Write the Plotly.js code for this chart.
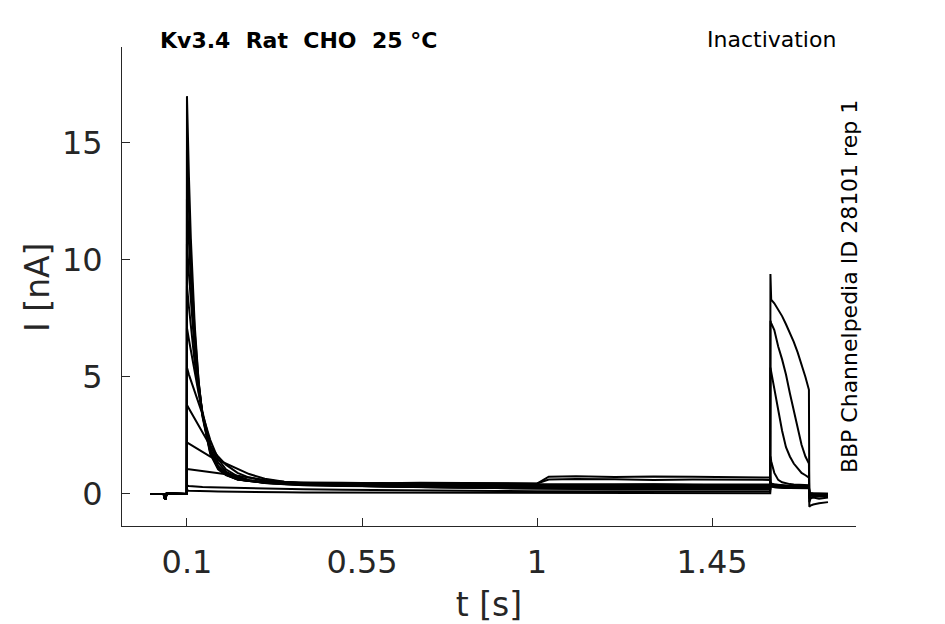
<!DOCTYPE html>
<html>
<head>
<meta charset="utf-8">
<script src="https://cdn.plot.ly/plotly-3.0.1.min.js"></script>
<style>
  body { margin: 0; background: #fff; }
  #chart { width: 945px; height: 624px; }
</style>
</head>
<body>
<div id="chart"></div>
<script>
// holding period before the prepulse (same for every sweep)
var tHold = [0.005, 0.04, 0.044, 0.048, 0.0995];
var iHold = [0, 0, -0.25, 0.02, 0];

// prepulse, 0.1 s .. 1.6 s
var tPre = [0.1, 0.105, 0.11, 0.12, 0.13, 0.14, 0.16, 0.18, 0.2, 0.23, 0.26, 0.3, 0.35, 0.4,
            0.5, 0.6, 0.7, 0.8, 0.9, 1.0, 1.03, 1.1, 1.2, 1.3, 1.4, 1.5, 1.5995];

// test pulse and tail, 1.6 s .. 1.75 s
var tTest = [1.6, 1.602, 1.61, 1.62, 1.63, 1.64, 1.65, 1.66, 1.67, 1.68, 1.69, 1.699,
             1.7, 1.703, 1.71, 1.725, 1.748];

var pre1  = [17.0, 13.6, 10.9, 7.2, 4.8, 3.3, 1.7, 1.05, 0.8, 0.62, 0.55, 0.5, 0.48, 0.47, 0.45, 0.47, 0.44, 0.46, 0.45, 0.44, 0.74, 0.76, 0.72, 0.75, 0.73, 0.72, 0.7];
var pre2  = [14.7, 12.2, 10.0, 6.9, 4.8, 3.35, 1.75, 1.1, 0.82, 0.63, 0.56, 0.52, 0.5, 0.49, 0.48, 0.46, 0.48, 0.47, 0.46, 0.45, 0.62, 0.64, 0.63, 0.6, 0.62, 0.6, 0.6];
var pre3  = [12.6, 10.8, 9.1, 6.5, 4.7, 3.4, 1.8, 1.1, 0.82, 0.62, 0.55, 0.5, 0.46, 0.44, 0.42, 0.43, 0.41, 0.42, 0.4, 0.41, 0.4, 0.42, 0.4, 0.41, 0.4, 0.39, 0.4];
var pre4  = [10.7, 9.4, 8.2, 6.1, 4.6, 3.4, 1.85, 1.15, 0.85, 0.63, 0.55, 0.48, 0.45, 0.43, 0.42, 0.4, 0.42, 0.41, 0.4, 0.39, 0.4, 0.38, 0.39, 0.4, 0.38, 0.37, 0.38];
var pre5  = [8.9, 8.0, 7.1, 5.6, 4.4, 3.4, 1.95, 1.2, 0.88, 0.65, 0.56, 0.47, 0.43, 0.4, 0.38, 0.37, 0.38, 0.36, 0.37, 0.35, 0.36, 0.37, 0.35, 0.36, 0.34, 0.35, 0.35];
var pre6  = [7.1, 6.6, 6.1, 5.2, 4.3, 3.5, 2.1, 1.35, 0.95, 0.7, 0.58, 0.47, 0.41, 0.38, 0.35, 0.34, 0.33, 0.34, 0.32, 0.33, 0.32, 0.31, 0.32, 0.3, 0.31, 0.3, 0.3];
var pre7  = [5.4, 5.1, 4.85, 4.4, 3.9, 3.4, 2.3, 1.5, 1.05, 0.75, 0.6, 0.48, 0.41, 0.37, 0.34, 0.32, 0.31, 0.3, 0.3, 0.29, 0.3, 0.28, 0.29, 0.28, 0.27, 0.28, 0.27];
var pre8  = [3.8, 3.65, 3.5, 3.2, 2.9, 2.6, 2.05, 1.6, 1.25, 0.9, 0.7, 0.55, 0.45, 0.4, 0.35, 0.32, 0.3, 0.28, 0.27, 0.26, 0.27, 0.25, 0.26, 0.25, 0.24, 0.25, 0.24];
var pre9  = [2.2, 2.15, 2.1, 2.0, 1.9, 1.8, 1.6, 1.45, 1.3, 1.05, 0.85, 0.65, 0.52, 0.45, 0.36, 0.32, 0.28, 0.26, 0.25, 0.23, 0.24, 0.22, 0.23, 0.22, 0.21, 0.22, 0.21];
var pre10 = [1.05, 1.05, 1.04, 1.02, 1.0, 0.98, 0.95, 0.9, 0.85, 0.78, 0.7, 0.6, 0.52, 0.46, 0.38, 0.33, 0.3, 0.27, 0.25, 0.23, 0.22, 0.21, 0.2, 0.2, 0.19, 0.2, 0.19];
var pre11 = [0.35, 0.34, 0.33, 0.32, 0.31, 0.3, 0.29, 0.28, 0.27, 0.26, 0.25, 0.24, 0.22, 0.2, 0.18, 0.16, 0.15, 0.14, 0.13, 0.12, 0.12, 0.11, 0.11, 0.1, 0.1, 0.1, 0.1];
var pre12 = [0.15, 0.14, 0.14, 0.13, 0.12, 0.12, 0.11, 0.1, 0.1, 0.09, 0.08, 0.08, 0.07, 0.06, 0.06, 0.05, 0.05, 0.05, 0.04, 0.04, 0.04, 0.04, 0.03, 0.04, 0.03, 0.04, 0.03];

var test1  = [0.5, 0.45, 0.4, 0.38, 0.36, 0.35, 0.35, 0.34, 0.34, 0.33, 0.33, 0.33, 0.05, 0.03, 0.02, 0.02, 0.01];
var test2  = [0.48, 0.44, 0.4, 0.37, 0.35, 0.34, 0.34, 0.33, 0.33, 0.33, 0.32, 0.32, 0.04, 0.02, 0.02, 0.01, 0.01];
var test3  = [0.45, 0.4, 0.36, 0.34, 0.33, 0.32, 0.32, 0.31, 0.31, 0.3, 0.3, 0.3, 0.03, 0.02, 0.01, 0.01, 0];
var test4  = [0.42, 0.38, 0.34, 0.32, 0.31, 0.3, 0.3, 0.29, 0.29, 0.29, 0.28, 0.28, 0.02, 0.01, 0.01, 0, 0];
var test5  = [0.4, 0.36, 0.32, 0.3, 0.29, 0.28, 0.28, 0.28, 0.27, 0.27, 0.27, 0.27, 0.02, 0.01, 0, 0, 0];
var test6  = [0.38, 0.34, 0.3, 0.28, 0.27, 0.27, 0.26, 0.26, 0.26, 0.25, 0.25, 0.25, 0.01, 0, 0, 0, 0];
var test7  = [0.36, 0.32, 0.29, 0.27, 0.26, 0.25, 0.25, 0.25, 0.24, 0.24, 0.24, 0.24, 0, 0, -0.01, 0, 0];
var test8  = [0.4, 0.34, 0.3, 0.28, 0.27, 0.26, 0.26, 0.25, 0.25, 0.25, 0.25, 0.25, -0.05, -0.04, -0.03, -0.02, -0.02];
var test9  = [1.6, 1.4, 0.9, 0.6, 0.5, 0.45, 0.42, 0.4, 0.4, 0.38, 0.38, 0.37, -0.1, -0.08, -0.06, -0.05, -0.05];
var test10 = [5.4, 5.2, 4.5, 3.6, 2.7, 2.0, 1.6, 1.3, 1.1, 0.9, 0.8, 0.7, -0.2, -0.15, -0.12, -0.1, -0.1];
var test11 = [7.4, 7.3, 7.0, 6.3, 5.75, 5.1, 4.3, 3.6, 2.9, 2.1, 1.6, 1.3, -0.35, -0.2, -0.15, -0.2, -0.15];
var test12 = [9.4, 8.3, 8.15, 7.9, 7.6, 7.25, 6.9, 6.5, 6.05, 5.55, 5.0, 4.45, -0.55, -0.5, -0.45, -0.4, -0.35];

var preSweeps  = [pre1, pre2, pre3, pre4, pre5, pre6, pre7, pre8, pre9, pre10, pre11, pre12];
var testSweeps = [test1, test2, test3, test4, test5, test6, test7, test8, test9, test10, test11, test12];

var tAll = tHold.concat(tPre, tTest);
var data = [];
preSweeps.forEach(function(pre, k){
  data.push({
    x: tAll,
    y: iHold.concat(pre, testSweeps[k]),
    type: 'scatter',
    mode: 'lines',
    line: {color: '#000', width: 2},
    hoverinfo: 'skip'
  });
});

var ink = '#262626';
var font = 'DejaVu Sans, sans-serif';

var layout = {
  width: 945,
  height: 624,
  showlegend: false,
  paper_bgcolor: '#fff',
  plot_bgcolor: '#fff',
  margin: {l: 122, r: 89, t: 47, b: 98},
  font: {family: font, color: ink},
  xaxis: {
    range: [-0.067, 1.82],
    tickvals: [0.1, 0.55, 1, 1.45],
    ticktext: ['0.1', '0.55', '1', '1.45'],
    ticks: 'inside',
    ticklen: 8,
    tickcolor: ink,
    showline: true,
    linecolor: ink,
    linewidth: 1,
    showgrid: false,
    zeroline: false,
    tickfont: {size: 32, color: ink},
    ticklabelstandoff: 8,
    title: {text: 't [s]', font: {size: 33, color: ink}, standoff: 13}
  },
  yaxis: {
    range: [-1.37, 19.1],
    tickvals: [0, 5, 10, 15],
    ticks: 'inside',
    ticklen: 8,
    tickcolor: ink,
    showline: true,
    linecolor: ink,
    linewidth: 1,
    showgrid: false,
    zeroline: false,
    tickfont: {size: 32, color: ink},
    ticklabelstandoff: 12
  },
  annotations: [
    // y title placed by hand so it sits where the original one does
    {text: 'I [nA]', xref: 'paper', yref: 'paper', x: -0.1144, y: 0.497,
     xanchor: 'center', yanchor: 'middle', textangle: -90, showarrow: false, font: {size: 33, color: ink}},
    {text: '<b>Kv3.4\u00a0\u00a0Rat\u00a0\u00a0CHO\u00a0\u00a025 °C</b>', xref: 'paper', yref: 'paper', x: 0.049, y: 1.0146,
     xanchor: 'left', yanchor: 'middle', showarrow: false, font: {size: 22, color: '#000'}},
    {text: 'Inactivation', xref: 'paper', yref: 'paper', x: 0.9755, y: 1.0166,
     xanchor: 'right', yanchor: 'middle', showarrow: false, font: {size: 22, color: '#000'}},
    {text: 'BBP Channelpedia ID 28101 rep 1', xref: 'paper', yref: 'paper', x: 0.992, y: 0.499,
     xanchor: 'center', yanchor: 'middle', textangle: -90, showarrow: false, font: {size: 22, color: '#000'}}
  ]
};

Plotly.newPlot('chart', data, layout, {staticPlot: true});
</script>
</body>
</html>
